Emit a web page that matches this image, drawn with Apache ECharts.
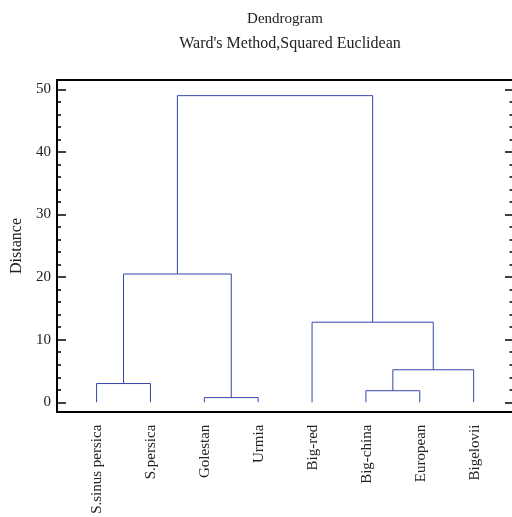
<!DOCTYPE html>
<html><head><meta charset="utf-8">
<script src="https://cdn.jsdelivr.net/npm/echarts@6/dist/echarts.min.js"></script>
<style>html,body{margin:0;padding:0;background:#fff}#c{width:512px;height:517px}</style>
</head><body><div id="c"></div>
<script>
const leaves = ["S.sinus persica","S.persica","Golestan","Urmia","Big-red","Big-china","European","Bigelovii"];
// merges: node ids (leaf i = i, merge k = leaves.length + k)
const mergeLeft  = [0, 2, 8, 5, 11, 4, 10];
const mergeRight = [1, 3, 9, 6, 7, 12, 13];
const mergeHeight = [3.0, 0.75, 20.5, 1.85, 5.2, 12.8, 49.0];
const majorTicks = [0, 10, 20, 30, 40, 50];
const minorTicks = [2,4,6,8,12,14,16,18,22,24,26,28,32,34,36,38,42,44,46,48];
const titleText = "Dendrogram";
const subtitleText = "Ward's Method,Squared Euclidean";
const yName = "Distance";

const nodeX = leaves.map((_, i) => i), nodeH = leaves.map(() => 0);
const series = [];
const color = '#3346ab';
mergeHeight.forEach((h, k) => {
  const a = mergeLeft[k], b = mergeRight[k];
  series.push({
    type: 'line', xAxisIndex: 0, yAxisIndex: 0, symbol: 'none', silent: true,
    lineStyle: {color, width: 1}, animation: false,
    data: [[nodeX[a], nodeH[a]], [nodeX[a], h], [nodeX[b], h], [nodeX[b], nodeH[b]]]
  });
  nodeX.push((nodeX[a] + nodeX[b]) / 2); nodeH.push(h);
});

const font = 'Liberation Serif';
const yMin = -1.5, yMax = 51.5, xMin = -0.735, xMax = 7.712;
function yAx(pos, vals, len, labels, line) {
  return {
    type: 'value', gridIndex: 0, position: pos, min: yMin, max: yMax, offset: 0,
    axisLine: {show: line, onZero: false, lineStyle: {color: '#000', width: 2}},
    axisTick: {show: true, inside: true, length: len, customValues: vals, lineStyle: {color: '#000', width: 1.5}},
    axisLabel: labels ? {show: true, customValues: vals, color: '#222', fontFamily: font, fontSize: 15, margin: 6} : {show: false},
    splitLine: {show: false}
  };
}
function xFrame(pos) {
  return {type: 'value', gridIndex: 0, position: pos, min: xMin, max: xMax,
    axisLine: {show: true, onZero: false, lineStyle: {color: '#000', width: 2}},
    axisTick: {show: false}, axisLabel: {show: false}, splitLine: {show: false}};
}
const chart = echarts.init(document.getElementById('c'), null, {renderer: 'canvas'});
chart.setOption({
  animation: false,
  title: [
    {text: titleText, left: 280, top: 7, textAlign: 'center', textStyle: {fontFamily: font, fontSize: 15, fontWeight: 'normal', color: '#222'}},
    {text: subtitleText, left: 285, top: 31, textAlign: 'center', textStyle: {fontFamily: font, fontSize: 16, fontWeight: 'normal', color: '#222'}}
  ],
  grid: [
    {left: 57, top: 80, width: 456.5, height: 331.7},
    {left: 70, top: 80, width: 432.3, height: 331.7}
  ],
  xAxis: [
    xFrame('bottom'),
    {type: 'category', gridIndex: 1, data: leaves, boundaryGap: true, axisLine: {show: false, onZero: false}, axisTick: {show: false},
     axisLabel: {rotate: 90, interval: 0, margin: 13, fontFamily: font, fontSize: 15, color: '#222'}},
    xFrame('top')
  ],
  yAxis: [
    yAx('left', majorTicks, 9, true, true),
    yAx('left', minorTicks, 4, false, true),
    yAx('right', majorTicks, 7, false, false),
    yAx('right', minorTicks, 2.5, false, false),
    {type: 'value', gridIndex: 1, show: false}
  ],
  graphic: [{type: 'text', x: 17, y: 246, rotation: Math.PI / 2,
    style: {text: yName, font: '16px "Liberation Serif"', fill: '#222', textAlign: 'center', textVerticalAlign: 'middle'}}],
  series
});
</script></body></html>
